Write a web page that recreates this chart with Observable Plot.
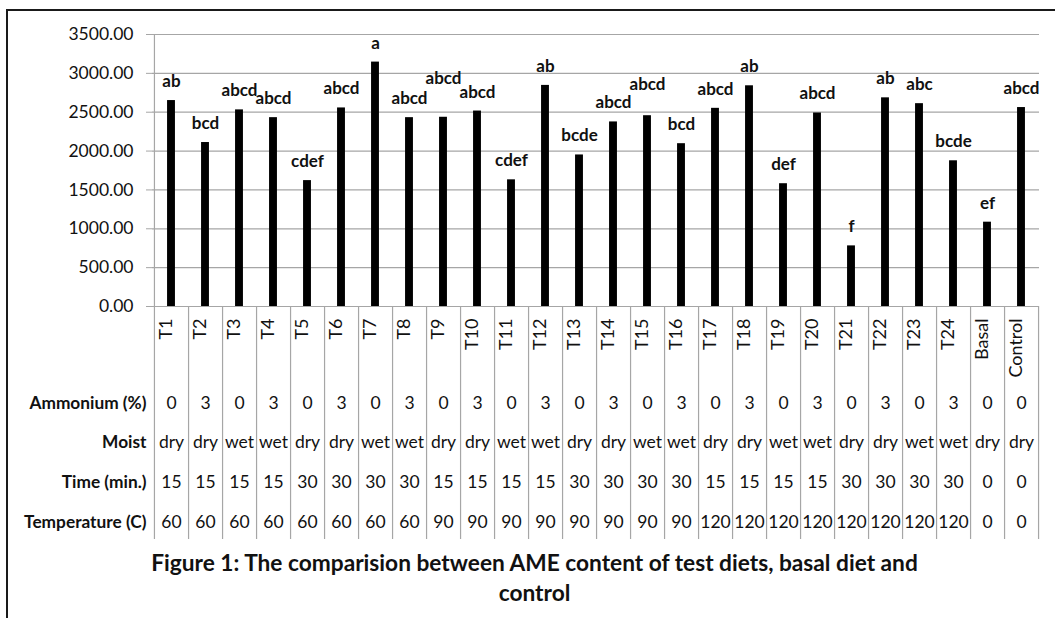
<!DOCTYPE html>
<html>
<head>
<meta charset="utf-8">
<script src="https://cdn.jsdelivr.net/npm/d3@7"></script>
<script src="https://cdn.jsdelivr.net/npm/@observablehq/plot@0.6"></script>
<style>
  html, body { margin: 0; padding: 0; background: #fff; }
  #wrap { position: relative; width: 1055px; height: 618px; overflow: hidden; }
  #border { position: absolute; left: 6px; top: 9px; width: 1060px; height: 620px;
            border-top: 2px solid #1a1a1a; border-left: 2px solid #1a1a1a; }
  #chart { position: absolute; left: 0; top: 0; }
  svg { font-family: Lato, "Open Sans", sans-serif; }
</style>
</head>
<body>
<div id="wrap"><div id="border"></div><div id="chart"></div></div>
<script>
// ---- data ----
const categories = ["T1","T2","T3","T4","T5","T6","T7","T8","T9","T10","T11","T12","T13","T14","T15","T16","T17","T18","T19","T20","T21","T22","T23","T24","Basal","Control"];
const ame = [2650, 2110, 2530, 2430, 1620, 2555, 3145, 2430, 2435, 2515, 1630, 2845, 1950, 2375, 2455, 2095, 2550, 2840, 1580, 2490, 780, 2685, 2610, 1875, 1085, 2560];
const letters = ["ab","bcd","abcd","abcd","cdef","abcd","a","abcd","abcd","abcd","cdef","ab","bcde","abcd","abcd","bcd","abcd","ab","def","abcd","f","ab","abc","bcde","ef","abcd"];
const ammonium = [0,3,0,3,0,3,0,3,0,3,0,3,0,3,0,3,0,3,0,3,0,3,0,3,0,0];
const moist = ["dry","dry","wet","wet","dry","dry","wet","wet","dry","dry","wet","wet","dry","dry","wet","wet","dry","dry","wet","wet","dry","dry","wet","wet","dry","dry"];
const timeMin = [15,15,15,15,30,30,30,30,15,15,15,15,30,30,30,30,15,15,15,15,30,30,30,30,0,0];
const temperature = [60,60,60,60,60,60,60,60,90,90,90,90,90,90,90,90,120,120,120,120,120,120,120,120,0,0];
const rowLabels = ["Ammonium (%)","Moist","Time (min.)","Temperature (C)"];
const yTicks = [0,500,1000,1500,2000,2500,3000,3500];
const titleLines = ["Figure 1: The comparision between AME content of test diets, basal diet and", "control"];

// ---- layout ----
const W = 1055, H = 618;
const mL = 152, mR = 16, mT = 34, mB = 312;
const bw = (W - mL - mR) / categories.length;
const frameH = H - mT - mB;
const tableBottom = 233;           // table extends this far below the x axis
const rowDy = [102, 141, 181, 221]; // row centres below the axis
const labelLift = {T9: 20, T15: 12}; // manually raised labels in original

const data = categories.map((c, i) => ({cat: c, value: ame[i], letter: letters[i]}));
const rows = [ammonium, moist, timeMin, temperature];
const grid = "#a6a6a6";

const marks = [
  Plot.gridY(yTicks, {stroke: grid, strokeOpacity: 1, strokeWidth: 1.2}),
  Plot.axisY(yTicks, {tickFormat: d => d.toFixed(2), tickSize: 6, tickPadding: 13, label: null,
    stroke: grid, fontSize: 17.5, fill: "#111"}),
  // y axis line (continues down through the table)
  Plot.ruleX([categories[0]], {x: d => d, dx: -bw / 2, insetBottom: -tableBottom, stroke: grid, strokeWidth: 1.2}),
  // table column separators
  Plot.ruleX(categories, {x: d => d, dx: bw / 2, insetTop: frameH, insetBottom: -tableBottom, stroke: grid, strokeWidth: 1.2}),
  Plot.barY(data, {x: "cat", y: "value", fill: "#000", insetLeft: (bw - 8) / 2, insetRight: (bw - 8) / 2}),
  Plot.text(data.filter(d => !labelLift[d.cat]), {x: "cat", y: "value", text: "letter", dy: -19,
    fontWeight: "bold", fontSize: 17, fill: "#111"}),
  ...Object.entries(labelLift).map(([c, lift]) =>
    Plot.text(data.filter(d => d.cat === c), {x: "cat", y: "value", text: "letter", dy: -19 - lift,
      fontWeight: "bold", fontSize: 17, fill: "#111"})),
  // category labels, rotated
  Plot.text(categories, {x: d => d, text: d => d, frameAnchor: "bottom", rotate: -90, textAnchor: "end",
    dy: 12, fontSize: 18, fill: "#111"}),
  // table rows
  ...rows.map((r, k) => Plot.text(categories, {x: d => d, text: (d, i) => String(r[i]), frameAnchor: "bottom",
    dy: rowDy[k], fontSize: 17.5, fill: "#111"})),
  ...rowLabels.map((lab, k) => Plot.text([lab], {text: d => d, frameAnchor: "bottom-left", textAnchor: "end",
    dx: -6, dy: rowDy[k], fontSize: 17.3, fontWeight: "bold", fill: "#111"})),
  // caption
  ...titleLines.map((t, k) => Plot.text([t], {text: d => d, frameAnchor: "bottom",
    dx: 534 - (mL + (W - mR)) / 2, dy: 264 + 30 * k, fontSize: 22.7, fontWeight: "bold", fill: "#111"}))
];

const chart = Plot.plot({
  width: W, height: H,
  marginLeft: mL, marginRight: mR, marginTop: mT, marginBottom: mB,
  style: {background: "transparent", overflow: "visible"},
  x: {type: "band", domain: categories, padding: 0, axis: null},
  y: {domain: [0, 3500], axis: null},
  marks
});
document.getElementById("chart").appendChild(chart);
</script>
</body>
</html>
